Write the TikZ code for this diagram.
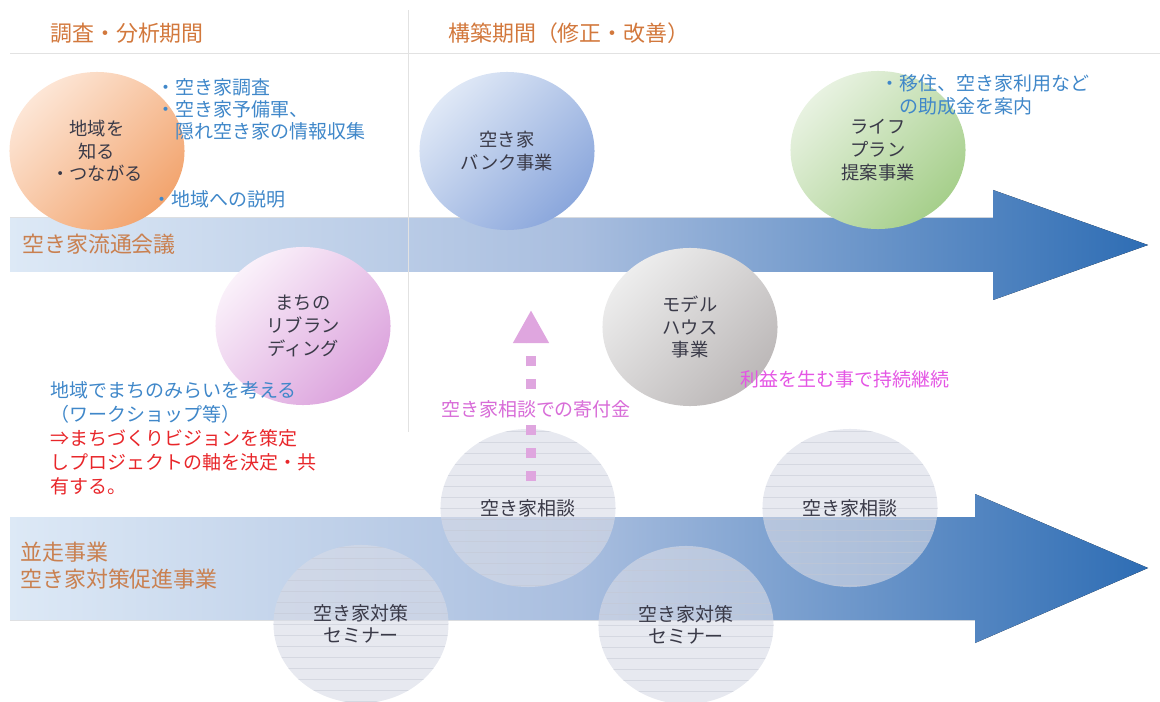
\documentclass[tikz,border=0pt]{standalone}
\usepackage{fontspec}
\setmainfont{Noto Sans CJK JP}
\usepackage{tikz}
\usetikzlibrary{arrows.meta,shapes.geometric,positioning,calc}

\definecolor{headorange}{HTML}{D2783C}
\definecolor{bandorange}{HTML}{C98050}
\definecolor{noteblue}{HTML}{3F87C9}
\definecolor{notered}{HTML}{E8262A}
\definecolor{notepink}{HTML}{E455E4}
\definecolor{giftlabel}{HTML}{D86CD8}
\definecolor{giftpink}{HTML}{DFA6DF}
\definecolor{balltext}{HTML}{3A3A48}
\definecolor{arrowlight}{HTML}{DDE9F6}
\definecolor{arrowmid}{HTML}{A9BEDF}
\definecolor{arrowdark}{HTML}{2E6DB4}
\definecolor{rulegray}{HTML}{E2E2E2}
\definecolor{pale}{HTML}{D8DBE6}
\definecolor{stripe}{HTML}{C4C8D4}
\definecolor{orangelight}{HTML}{FDE6D6}
\definecolor{orangedark}{HTML}{F2A46E}
\definecolor{bluelight}{HTML}{DFE8F6}
\definecolor{bluedark}{HTML}{8BA7DC}
\definecolor{greenlight}{HTML}{E8F2E1}
\definecolor{greendark}{HTML}{A6CF8B}
\definecolor{pinklight}{HTML}{FAF1FA}
\definecolor{pinkdark}{HTML}{DCA3DD}
\definecolor{graylight}{HTML}{EDEDED}
\definecolor{graydark}{HTML}{BCB8B8}

\newcommand{\headsize}{\fontsize{15.6pt}{19.2pt}\selectfont}
\newcommand{\notesize}{\fontsize{13.5pt}{15.7pt}\selectfont}
\newcommand{\ballsize}{\fontsize{13pt}{16.2pt}\selectfont}

\tikzstyle{ball} = [ellipse, minimum width=4.375cm, minimum height=3.95cm, inner sep=0pt, align=center, text=balltext, font=\ballsize]
\tikzstyle{orangeball} = [top color=orangelight, bottom color=orangedark, shading angle=45]
\tikzstyle{blueball} = [top color=bluelight, bottom color=bluedark, shading angle=45]
\tikzstyle{greenball} = [top color=greenlight, bottom color=greendark, shading angle=45]
\tikzstyle{pinkball} = [top color=pinklight, bottom color=pinkdark, shading angle=45]
\tikzstyle{grayball} = [top color=graylight, bottom color=graydark, shading angle=45]
\tikzstyle{paleball} = [fill=pale, fill opacity=0.62, text opacity=1, font=\notesize,
	path picture={\foreach \k in {-8,...,8} \draw[stripe, draw opacity=0.5, line width=0.3pt] ([yshift=\k*0.275cm]path picture bounding box.west) -- ([yshift=\k*0.275cm]path picture bounding box.east);}]
\tikzstyle{head} = [inner sep=0pt, text=headorange, font=\headsize]
\tikzstyle{band} = [inner sep=0pt, text=bandorange, font=\headsize, align=left]
\tikzstyle{note} = [inner sep=0pt, text=noteblue, font=\notesize, align=left]

\begin{document}
\begin{tikzpicture}[x=0.025cm, y=-0.025cm]
		\useasboundingbox (0,0) rectangle (1160,702);
		
		% the two flows
		\fill[left color=arrowlight, right color=arrowdark, middle color=arrowmid] (10,218) -- (993,218) -- (993,190) -- (1148,245) -- (993,300) -- (993,272) -- (10,272) -- cycle;
		\fill[left color=arrowlight, right color=arrowdark, middle color=arrowmid] (10,517) -- (975,517) -- (975,494) -- (1148,568) -- (975,643) -- (975,620) -- (10,620) -- cycle;
		
		\draw[rulegray] (10,53) -- (1160,53);
		\draw[rulegray] (408,10) -- (408,432);
		
		\node[head, anchor=west] (survey) at (50,33) {調査・分析期間};
		\node[head, anchor=west] (build) at (448,33) {構築期間（修正・改善）};
		\node[band, anchor=west] (meeting) at (22,244) {空き家流通会議};
		\node[band, anchor=west, font=\fontsize{15.6pt}{19.2pt}\selectfont] (parallel) at (20,566) {並走事業\\空き家対策促進事業};
		
		\node[ball, orangeball] (know) at (97,151) {地域を\\知る\\・つながる};
		\node[ball, blueball] (bank) at (507,151) {空き家\\バンク事業};
		\node[ball, greenball] (life) at (878,150) {ライフ\\プラン\\提案事業};
		\node[ball, pinkball] (rebrand) at (303,326) {まちの\\リブラン\\ディング};
		\node[ball, grayball] (model) at (690,327) {モデル\\ハウス\\事業};
		
		\node[ball, paleball] (consult1) at (528,508) {空き家相談};
		\node[ball, paleball] (consult2) at (850,508) {空き家相談};
		\node[ball, paleball] (seminar1) at (361,624) {空き家対策\\セミナー};
		\node[ball, paleball] (seminar2) at (686,625) {空き家対策\\セミナー};
		
		% donation flows up from consulting
		\coordinate (giftstart) at ($(consult1.center)+(3,-27)$);
		\coordinate (gifttop) at (531,310);
		\draw[giftpink, line width=7.1pt, dash pattern=on 7.1pt off 9.2pt, -{Triangle[length=23.5pt,width=24pt]}] (giftstart) -- (gifttop);
		\node[fill=white, inner sep=1pt, text=giftlabel, font=\notesize] (gift) at (536,409) {空き家相談での寄付金};
		
		\node[note, anchor=west] (survnote) at (156,109) {・空き家調査\\・空き家予備軍、\\\hspace*{1em}隠れ空き家の情報収集};
		\node[note, anchor=west] (explain) at (152,199) {・地域への説明};
		\node[note, anchor=west, font=\fontsize{13.5pt}{16.4pt}\selectfont] (subsidy) at (880,94.5) {・移住、空き家利用など\\\hspace*{1em}の助成金を案内};
		\node[note, anchor=west, font=\fontsize{13.5pt}{17pt}\selectfont] (vision) at (50,438) {地域でまちのみらいを考える\\（ワークショップ等）\\\textcolor{notered}{⇒まちづくりビジョンを策定}\\\textcolor{notered}{しプロジェクトの軸を決定・共}\\\textcolor{notered}{有する。}};
		\node[text=notepink, font=\notesize] (profit) at (845,379) {利益を生む事で持続継続};
\end{tikzpicture}
\end{document}
